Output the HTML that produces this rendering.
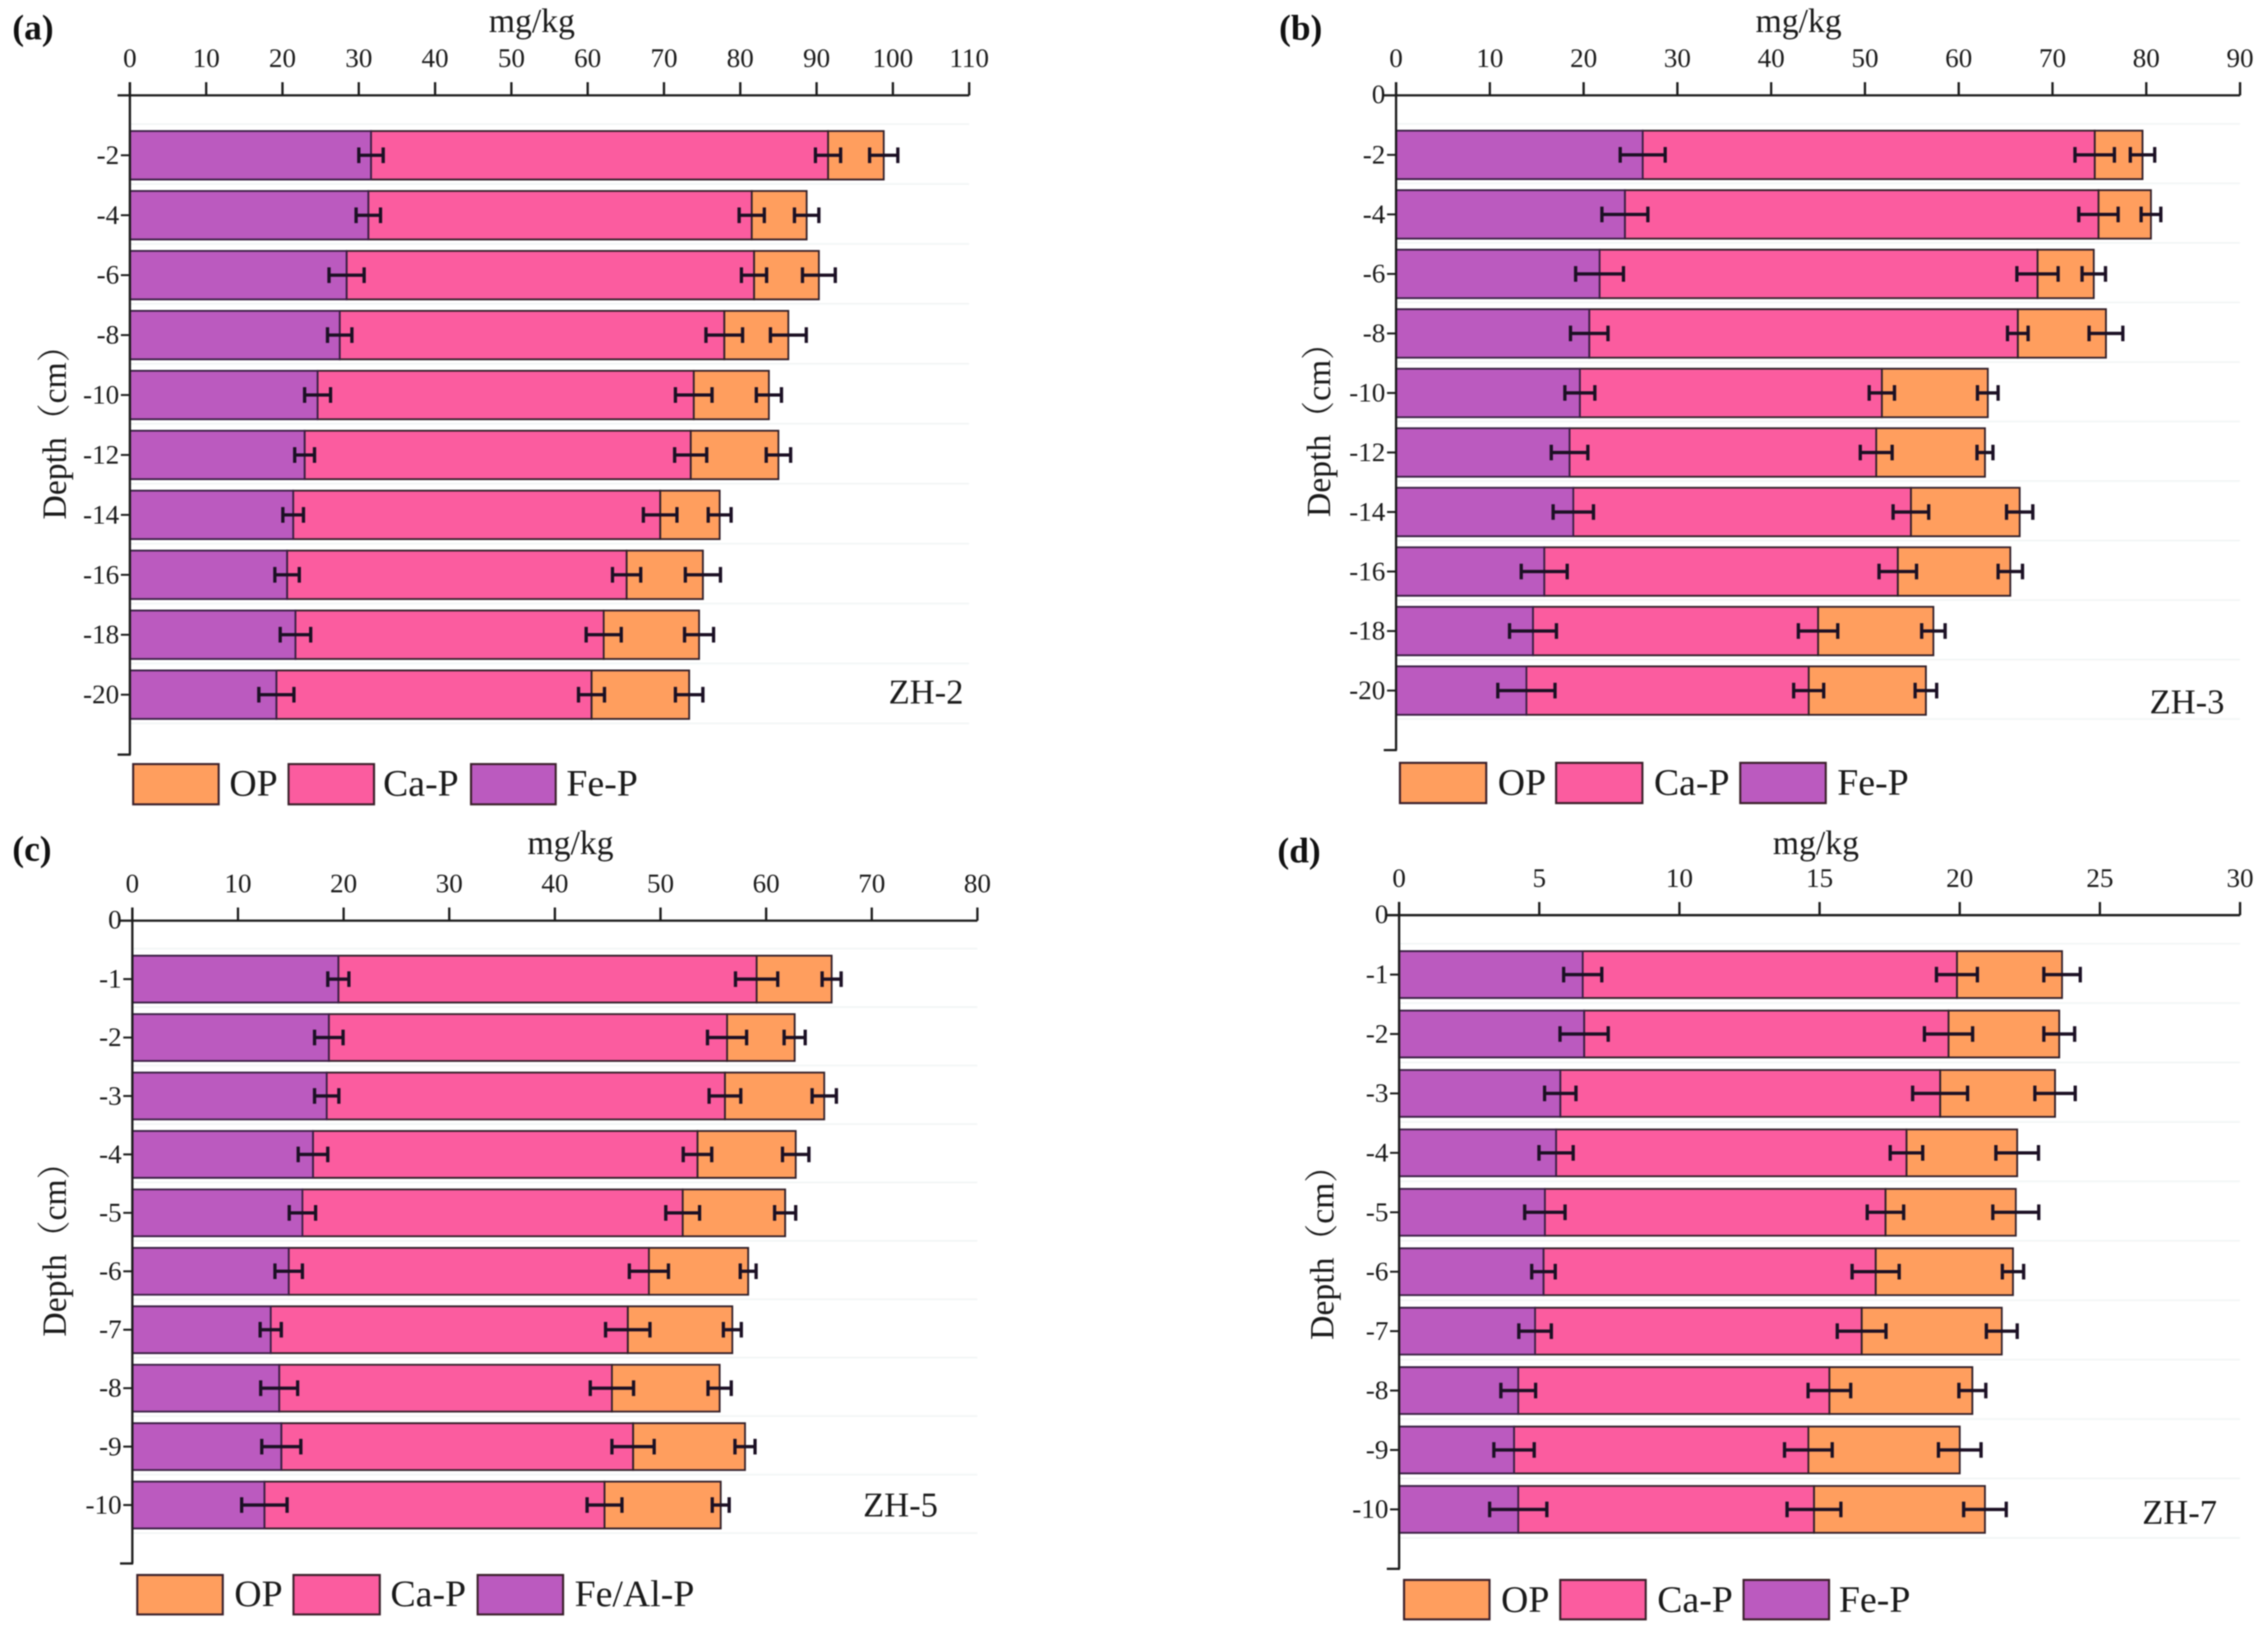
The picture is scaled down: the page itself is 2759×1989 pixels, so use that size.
<!DOCTYPE html>
<html lang="en">
<head>
<meta charset="utf-8">
<title>Phosphorus fractions by depth</title>
<style>
html,body{margin:0;padding:0;background:#fff;}
svg{display:block;filter:blur(0.7px);}
text{font-family:"Liberation Serif","Noto Serif CJK SC",serif;fill:#1a1a1a;}
.letter{font-size:43px;font-weight:bold;fill:#111;}
.unit{font-size:41px;text-anchor:middle;}
.depth{font-size:41px;}
.site{font-size:42px;}
.leg{font-size:46px;}
.op{fill:#FF9E5E;}
.ca{fill:#FB5C9F;}
.fe{fill:#BB5ABF;}
.sw{stroke:#3a1f2a;stroke-width:2.5;}
</style>
</head>
<body>
<svg id="chart" xmlns="http://www.w3.org/2000/svg" width="2759" height="1989" viewBox="0 0 2759 1989">
  <rect width="2759" height="1989" fill="#fff"/>

  <g id="panel-a">
    <text class="letter" x="15" y="48">(a)</text>
    <text class="unit" x="647" y="39">mg/kg</text>
    <text class="depth" transform="translate(80,632) rotate(-90)">Depth（cm）</text>
    <text class="site" x="1081" y="856">ZH-2</text>
    <g>
      <rect class="op sw" x="162" y="929.5" width="104" height="49"/>
      <text class="leg" x="279" y="968">OP</text>
      <rect class="ca sw" x="351" y="929.5" width="104" height="49"/>
      <text class="leg" x="466" y="968">Ca-P</text>
      <rect class="fe sw" x="573" y="929.5" width="103" height="49"/>
      <text class="leg" x="689" y="968">Fe-P</text>
    </g>
  </g>

  <g id="panel-b">
    <text class="letter" x="1556" y="48">(b)</text>
    <text class="unit" x="2188" y="39">mg/kg</text>
    <text class="depth" transform="translate(1618,629) rotate(-90)">Depth（cm）</text>
    <text class="site" x="2615" y="868">ZH-3</text>
    <g>
      <rect class="op sw" x="1703" y="928" width="105" height="49"/>
      <text class="leg" x="1822" y="967">OP</text>
      <rect class="ca sw" x="1893" y="928" width="105" height="49"/>
      <text class="leg" x="2012" y="967">Ca-P</text>
      <rect class="fe sw" x="2117" y="928" width="104" height="49"/>
      <text class="leg" x="2235" y="967">Fe-P</text>
    </g>
  </g>

  <g id="panel-c">
    <text class="letter" x="15" y="1047">(c)</text>
    <text class="unit" x="694" y="1039">mg/kg</text>
    <text class="depth" transform="translate(80,1626) rotate(-90)">Depth（cm）</text>
    <text class="site" x="1050" y="1845">ZH-5</text>
    <g>
      <rect class="op sw" x="167" y="1916" width="104" height="48"/>
      <text class="leg" x="285" y="1954">OP</text>
      <rect class="ca sw" x="357" y="1916" width="105" height="48"/>
      <text class="leg" x="475" y="1954">Ca-P</text>
      <rect class="fe sw" x="581" y="1916" width="104" height="48"/>
      <text class="leg" x="699" y="1954">Fe/Al-P</text>
    </g>
  </g>

  <g id="panel-d">
    <text class="letter" x="1554" y="1049">(d)</text>
    <text class="unit" x="2209" y="1039">mg/kg</text>
    <text class="depth" transform="translate(1622,1630) rotate(-90)">Depth（cm）</text>
    <text class="site" x="2606" y="1854">ZH-7</text>
    <g>
      <rect class="op sw" x="1708" y="1922" width="104" height="48"/>
      <text class="leg" x="1826" y="1961">OP</text>
      <rect class="ca sw" x="1898" y="1922" width="104" height="48"/>
      <text class="leg" x="2016" y="1961">Ca-P</text>
      <rect class="fe sw" x="2121" y="1922" width="104" height="48"/>
      <text class="leg" x="2237" y="1961">Fe-P</text>
    </g>
  </g>
</svg>

<script>
// ---------- Panel (a) ZH-2 data (mg/kg) ----------
const depthsA = [-2, -4, -6, -8, -10, -12, -14, -16, -18, -20];
const xTicksA = [0, 10, 20, 30, 40, 50, 60, 70, 80, 90, 100, 110];
const feA = [31.6, 31.25, 28.4, 27.5, 24.6, 22.9, 21.4, 20.6, 21.7, 19.2];
const caA = [59.9, 50.25, 53.4, 50.4, 49.3, 50.6, 48.1, 44.5, 40.4, 41.3];
const opA = [7.3, 7.2, 8.5, 8.4, 9.85, 11.5, 7.8, 10.0, 12.5, 12.8];
const errFeA = [1.6, 1.6, 2.3, 1.6, 1.7, 1.3, 1.35, 1.6, 2.0, 2.3];
const errCaA = [1.65, 1.65, 1.65, 2.4, 2.4, 2.1, 2.2, 1.85, 2.3, 1.7];
const errOpA = [1.85, 1.6, 2.15, 2.35, 1.65, 1.6, 1.5, 2.3, 1.9, 1.8];

// ---------- Panel (b) ZH-3 data (mg/kg) ----------
const depthsB = [-2, -4, -6, -8, -10, -12, -14, -16, -18, -20];
const xTicksB = [0, 10, 20, 30, 40, 50, 60, 70, 80, 90];
const feB = [26.3, 24.4, 21.7, 20.6, 19.6, 18.5, 18.9, 15.8, 14.6, 13.9];
const caB = [48.2, 50.5, 46.7, 45.7, 32.2, 32.7, 36.0, 37.7, 30.4, 30.1];
const opB = [5.1, 5.6, 6.0, 9.4, 11.3, 11.6, 11.6, 12.0, 12.3, 12.5];
const errFeB = [2.4, 2.45, 2.55, 2.0, 1.6, 1.95, 2.15, 2.45, 2.5, 3.05];
const errCaB = [2.1, 2.1, 2.2, 1.1, 1.35, 1.7, 1.9, 2.0, 2.1, 1.6];
const errOpB = [1.3, 1.05, 1.25, 1.8, 1.1, 0.85, 1.4, 1.3, 1.25, 1.15];

// ---------- Panel (c) ZH-5 data (mg/kg) ----------
const depthsC = [-1, -2, -3, -4, -5, -6, -7, -8, -9, -10];
const xTicksC = [0, 10, 20, 30, 40, 50, 60, 70, 80];
const feC = [19.5, 18.6, 18.4, 17.1, 16.1, 14.8, 13.1, 13.9, 14.1, 12.5];
const caC = [39.6, 37.7, 37.7, 36.4, 36.0, 34.1, 33.8, 31.5, 33.3, 32.2];
const opC = [7.1, 6.4, 9.4, 9.3, 9.7, 9.4, 9.9, 10.2, 10.6, 11.0];
const errFeC = [1.0, 1.35, 1.15, 1.4, 1.25, 1.3, 1.0, 1.75, 1.85, 2.15];
const errCaC = [2.0, 1.85, 1.5, 1.35, 1.6, 1.85, 2.1, 2.05, 2.0, 1.65];
const errOpC = [0.9, 1.0, 1.15, 1.25, 1.0, 0.75, 0.85, 1.1, 0.95, 0.8];

// ---------- Panel (d) ZH-7 data (mg/kg) ----------
const depthsD = [-1, -2, -3, -4, -5, -6, -7, -8, -9, -10];
const xTicksD = [0, 5, 10, 15, 20, 25, 30];
const feD = [6.55, 6.6, 5.75, 5.6, 5.2, 5.15, 4.85, 4.25, 4.1, 4.25];
const caD = [13.35, 13.0, 13.55, 12.5, 12.15, 11.85, 11.65, 11.1, 10.5, 10.55];
const opD = [3.75, 3.95, 4.1, 3.95, 4.65, 4.9, 5.0, 5.1, 5.4, 6.1];
const errFeD = [0.68, 0.86, 0.56, 0.61, 0.72, 0.42, 0.58, 0.62, 0.72, 1.02];
const errCaD = [0.73, 0.86, 0.98, 0.58, 0.65, 0.84, 0.87, 0.76, 0.85, 0.96];
const errOpD = [0.65, 0.55, 0.72, 0.76, 0.82, 0.38, 0.55, 0.48, 0.76, 0.76];

const NS = 'http://www.w3.org/2000/svg';

function mk(parent, tag, attrs, text) {
  const el = document.createElementNS(NS, tag);
  for (const k in attrs) el.setAttribute(k, attrs[k]);
  if (text !== undefined) el.textContent = text;
  parent.appendChild(el);
  return el;
}

function drawPanel(id, layout, depths, xTicks, fe, ca, op, errFe, errCa, errOp) {
  const root = document.getElementById(id);
  const xMax = xTicks[xTicks.length - 1];
  const step = Math.abs(depths[1] - depths[0]);
  const yMax = Math.abs(depths[depths.length - 1]) + step;
  const xs = v => layout.x0 + (v / xMax) * (layout.x1 - layout.x0);
  const ys = d => layout.y0 + (Math.abs(d) / yMax) * (layout.y1 - layout.y0);
  const axisColor = '#1c1c1c';

  // gridlines between rows
  for (let i = 0; i <= depths.length; i++) {
    const gy = ys(step * i + step / 2) - 1.5;
    const grid = mk(root, 'line', {x1: layout.x0, x2: layout.x1, y1: gy, y2: gy, stroke: '#f2f5f5', 'stroke-width': 2});
    
    
  }

  // stacked bars
  depths.forEach((d, i) => {
    const top = ys(d) - layout.barH / 2;
    const end1 = fe[i];
    const end2 = fe[i] + ca[i];
    const end3 = fe[i] + ca[i] + op[i];

    const barOp = mk(root, 'rect', {x: xs(end2), y: top, width: xs(end3) - xs(end2), height: layout.barH, fill: '#FF9E5E', stroke: '#33202a', 'stroke-width': 2.2});
    
    

    const barCa = mk(root, 'rect', {x: xs(end1), y: top, width: xs(end2) - xs(end1), height: layout.barH, fill: '#FB5C9F', stroke: '#33202a', 'stroke-width': 2.2});
    
    

    const barFe = mk(root, 'rect', {x: xs(0), y: top, width: xs(end1) - xs(0), height: layout.barH, fill: '#BB5ABF', stroke: '#3a1f44', 'stroke-width': 2.2});
    
    

    // error bars
    const stack = [[end1, errFe[i]], [end2, errCa[i]], [end3, errOp[i]]];
    stack.forEach(pair => {
      const lo = xs(pair[0] - pair[1]);
      const hi = xs(pair[0] + pair[1]);
      const cy = ys(d);
      const err = mk(root, 'path', {d: 'M' + lo + ' ' + cy + 'H' + hi + 'M' + lo + ' ' + (cy - 9.5) + 'V' + (cy + 9.5) + 'M' + hi + ' ' + (cy - 9.5) + 'V' + (cy + 9.5), fill: 'none', stroke: '#1b1024', 'stroke-width': 4});
      
      
    });
  });

  // x axis
  const xAxis = mk(root, 'line', {x1: layout.x0 - 15, x2: layout.x1, y1: layout.y0, y2: layout.y0, stroke: axisColor, 'stroke-width': 2.8});
  
  

  xTicks.forEach(v => {
    const tick = mk(root, 'line', {x1: xs(v), x2: xs(v), y1: layout.y0 - 16, y2: layout.y0, stroke: axisColor, 'stroke-width': 2.8});
    
    
    const lab = mk(root, 'text', {x: xs(v), y: layout.y0 - 34.5, 'text-anchor': 'middle', 'font-size': 33}, String(v));
    
    
  });

  // y axis
  const yAxis = mk(root, 'line', {x1: layout.x0, x2: layout.x0, y1: layout.y0 - 16, y2: layout.y1, stroke: axisColor, 'stroke-width': 2.8});
  
  

  depths.forEach(d => {
    const tick = mk(root, 'line', {x1: layout.x0 - 11, x2: layout.x0, y1: ys(d), y2: ys(d), stroke: axisColor, 'stroke-width': 2.4});
    
    
    const lab = mk(root, 'text', {x: layout.x0 - 13, y: ys(d) + 10.5, 'text-anchor': 'end', 'font-size': 33}, String(d));
    
    
  });

  const endTick = mk(root, 'line', {x1: layout.x0 - 15, x2: layout.x0 + 1, y1: layout.y1, y2: layout.y1, stroke: axisColor, 'stroke-width': 2.8});
  
  

  if (layout.zeroLabel) {
    const zero = mk(root, 'text', {x: layout.x0 - 13, y: layout.y0 + 9.5, 'text-anchor': 'end', 'font-size': 33}, '0');
    
    
  }
}

drawPanel('panel-a', {x0: 158, x1: 1179, y0: 116, y1: 918, barH: 59, zeroLabel: false}, depthsA, xTicksA, feA, caA, opA, errFeA, errCaA, errOpA);
drawPanel('panel-b', {x0: 1698.3, x1: 2725, y0: 116, y1: 912.5, barH: 59, zeroLabel: true}, depthsB, xTicksB, feB, caB, opB, errFeB, errCaB, errOpB);
drawPanel('panel-c', {x0: 161, x1: 1189, y0: 1120, y1: 1902, barH: 57, zeroLabel: true}, depthsC, xTicksC, feC, caC, opC, errFeC, errCaC, errOpC);
drawPanel('panel-d', {x0: 1702, x1: 2725, y0: 1113.3, y1: 1908.5, barH: 57, zeroLabel: true}, depthsD, xTicksD, feD, caD, opD, errFeD, errCaD, errOpD);
</script>
</body>
</html>
